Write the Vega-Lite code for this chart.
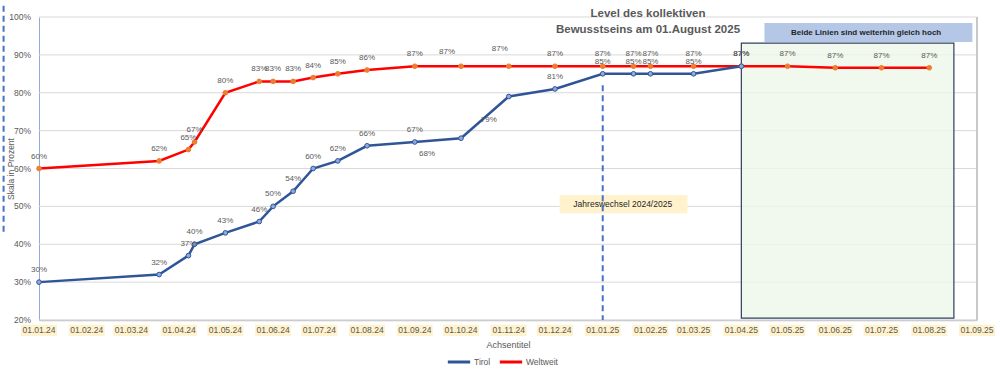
{
  "$schema": "https://vega.github.io/schema/vega-lite/v6.json",
  "autosize": {"type": "none"},
  "width": 938,
  "height": 303,
  "padding": {"left": 39, "top": 17, "right": 23, "bottom": 54},
  "background": "white",
  "config": {
    "font": "Liberation Sans",
    "view": {"stroke": null}
  },
  "title": {
    "text": ["Level des kollektiven", "Bewusstseins am 01.August 2025"],
    "anchor": "middle",
    "dx": 140,
    "offset": -40,
    "fontSize": 11.5,
    "fontWeight": "bold",
    "color": "#595959",
    "lineHeight": 16,
    "baseline": "alphabetic"
  },
  "datasets": {
    "months": [
      {"month": "2024-01-01T00:00"}, {"month": "2024-02-01T00:00"}, {"month": "2024-03-01T00:00"},
      {"month": "2024-04-01T00:00"}, {"month": "2024-05-01T00:00"}, {"month": "2024-06-01T00:00"},
      {"month": "2024-07-01T00:00"}, {"month": "2024-08-01T00:00"}, {"month": "2024-09-01T00:00"},
      {"month": "2024-10-01T00:00"}, {"month": "2024-11-01T00:00"}, {"month": "2024-12-01T00:00"},
      {"month": "2025-01-01T00:00"}, {"month": "2025-02-01T00:00"}, {"month": "2025-03-01T00:00"},
      {"month": "2025-04-01T00:00"}, {"month": "2025-05-01T00:00"}, {"month": "2025-06-01T00:00"},
      {"month": "2025-07-01T00:00"}, {"month": "2025-08-01T00:00"}, {"month": "2025-09-01T00:00"}
    ],
    "yticks": [
      {"tick": 0.2}, {"tick": 0.3}, {"tick": 0.4}, {"tick": 0.5}, {"tick": 0.6},
      {"tick": 0.7}, {"tick": 0.8}, {"tick": 0.9}, {"tick": 1.0}
    ]
  },
  "data": {
    "values": [
      {"date": "2024-01-01T00:00", "series": "Weltweit", "value": 0.60},
      {"date": "2024-03-19T00:00", "series": "Weltweit", "value": 0.62},
      {"date": "2024-04-07T00:00", "series": "Weltweit", "value": 0.65},
      {"date": "2024-04-11T00:00", "series": "Weltweit", "value": 0.67},
      {"date": "2024-05-01T00:00", "series": "Weltweit", "value": 0.80},
      {"date": "2024-05-23T00:00", "series": "Weltweit", "value": 0.83},
      {"date": "2024-06-01T00:00", "series": "Weltweit", "value": 0.83},
      {"date": "2024-06-14T00:00", "series": "Weltweit", "value": 0.83},
      {"date": "2024-06-27T00:00", "series": "Weltweit", "value": 0.84},
      {"date": "2024-07-13T00:00", "series": "Weltweit", "value": 0.85},
      {"date": "2024-08-01T00:00", "series": "Weltweit", "value": 0.86},
      {"date": "2024-09-01T00:00", "series": "Weltweit", "value": 0.87},
      {"date": "2024-10-01T00:00", "series": "Weltweit", "value": 0.87},
      {"date": "2024-11-01T00:00", "series": "Weltweit", "value": 0.87},
      {"date": "2024-12-01T00:00", "series": "Weltweit", "value": 0.87},
      {"date": "2025-01-01T00:00", "series": "Weltweit", "value": 0.87},
      {"date": "2025-01-21T00:00", "series": "Weltweit", "value": 0.87},
      {"date": "2025-02-01T00:00", "series": "Weltweit", "value": 0.87},
      {"date": "2025-03-01T00:00", "series": "Weltweit", "value": 0.87},
      {"date": "2025-04-01T00:00", "series": "Weltweit", "value": 0.87},
      {"date": "2025-05-01T00:00", "series": "Weltweit", "value": 0.87},
      {"date": "2025-06-01T00:00", "series": "Weltweit", "value": 0.866},
      {"date": "2025-07-01T00:00", "series": "Weltweit", "value": 0.866},
      {"date": "2025-08-01T00:00", "series": "Weltweit", "value": 0.866},
      {"date": "2024-01-01T00:00", "series": "Tirol", "value": 0.30},
      {"date": "2024-03-19T00:00", "series": "Tirol", "value": 0.32},
      {"date": "2024-04-07T00:00", "series": "Tirol", "value": 0.37},
      {"date": "2024-04-11T00:00", "series": "Tirol", "value": 0.40},
      {"date": "2024-05-01T00:00", "series": "Tirol", "value": 0.43},
      {"date": "2024-05-23T00:00", "series": "Tirol", "value": 0.46},
      {"date": "2024-06-01T00:00", "series": "Tirol", "value": 0.50},
      {"date": "2024-06-14T00:00", "series": "Tirol", "value": 0.54},
      {"date": "2024-06-27T00:00", "series": "Tirol", "value": 0.60},
      {"date": "2024-07-13T00:00", "series": "Tirol", "value": 0.62},
      {"date": "2024-08-01T00:00", "series": "Tirol", "value": 0.66},
      {"date": "2024-09-01T00:00", "series": "Tirol", "value": 0.67},
      {"date": "2024-10-01T00:00", "series": "Tirol", "value": 0.68},
      {"date": "2024-11-01T00:00", "series": "Tirol", "value": 0.79},
      {"date": "2024-12-01T00:00", "series": "Tirol", "value": 0.81},
      {"date": "2025-01-01T00:00", "series": "Tirol", "value": 0.85},
      {"date": "2025-01-21T00:00", "series": "Tirol", "value": 0.85},
      {"date": "2025-02-01T00:00", "series": "Tirol", "value": 0.85},
      {"date": "2025-03-01T00:00", "series": "Tirol", "value": 0.85},
      {"date": "2025-04-01T00:00", "series": "Tirol", "value": 0.87}
    ]
  },
  "layer": [
    {
      "data": {"name": "yticks"},
      "mark": {"type": "rule", "color": "#d9d9d9", "strokeWidth": 1},
      "encoding": {
        "x": {
          "datum": {"year": 2024, "month": 1, "date": 1}, "type": "temporal",
          "scale": {"domain": [{"year": 2024, "month": 1, "date": 1}, {"year": 2025, "month": 9, "date": 1}]},
          "axis": {
            "title": "Achsentitel", "labels": false,
            "tickCount": {"interval": "month", "step": 1},
            "titleFontSize": 9, "titleFontWeight": "normal", "titleColor": "#595959",
            "domainColor": "#bfbfbf", "domainWidth": 1.5, "gridColor": "#d9d9d9",
            "ticks": false, "titlePadding": 20
          }
        },
        "x2": {"datum": {"year": 2025, "month": 9, "date": 1}},
        "y": {
          "field": "tick", "type": "quantitative",
          "scale": {"domain": [0.2, 1], "zero": false, "nice": false},
          "axis": {
            "title": "Skala in Prozent", "labels": false, "grid": false, "ticks": false,
            "domainColor": "#8faadc", "titlePadding": 24,
            "titleFontSize": 8.5, "titleFontWeight": "normal", "titleColor": "#595959"
          }
        }
      }
    },
    {
      "data": {"name": "yticks"},
      "mark": {"type": "text", "fontSize": 8.5, "color": "#595959", "align": "right", "baseline": "middle", "dx": -8, "clip": false},
      "encoding": {
        "x": {"datum": {"year": 2024, "month": 1, "date": 1}, "type": "temporal"},
        "y": {"field": "tick", "type": "quantitative"},
        "text": {"field": "tick", "format": ".0%"}
      }
    },
    {
      "data": {"name": "months"},
      "mark": {"type": "point", "shape": "M-1,-0.31H1V0.31H-1Z", "size": 1296, "filled": true, "fill": "#fff2cc", "opacity": 1, "strokeWidth": 0, "clip": false},
      "encoding": {
        "x": {"field": "month", "type": "temporal"},
        "y": {"datum": 0.1725, "type": "quantitative"}
      }
    },
    {
      "data": {"name": "months"},
      "mark": {"type": "text", "fontSize": 8.5, "color": "#595959", "align": "center", "baseline": "middle", "clip": false},
      "encoding": {
        "x": {"field": "month", "type": "temporal"},
        "y": {"datum": 0.1725, "type": "quantitative"},
        "text": {"field": "month", "type": "temporal", "format": "%d.%m.%y"}
      }
    },
    {
      "data": {"values": [{}]},
      "mark": {"type": "rect", "fill": "#eef6e8", "stroke": "#2f4060", "strokeWidth": 1.2, "fillOpacity": 0.8},
      "encoding": {
        "x": {"datum": {"year": 2025, "month": 4, "date": 1}, "type": "temporal"},
        "x2": {"datum": {"year": 2025, "month": 8, "date": 17}},
        "y": {"datum": 0.931, "type": "quantitative"},
        "y2": {"datum": 0.205}
      }
    },
    {
      "data": {"values": [{}]},
      "mark": {"type": "rule", "color": "#c8c8c8", "strokeWidth": 2},
      "encoding": {
        "x": {"datum": {"year": 2025, "month": 9, "date": 1}, "type": "temporal"},
        "y": {"datum": 1.0, "type": "quantitative"},
        "y2": {"datum": 0.2}
      }
    },
    {
      "data": {"values": [{}]},
      "mark": {"type": "rect", "fill": "#fff2cc"},
      "encoding": {
        "x": {"datum": {"year": 2024, "month": 12, "date": 4}, "type": "temporal"},
        "x2": {"datum": {"year": 2025, "month": 2, "date": 25}},
        "y": {"datum": 0.53, "type": "quantitative"},
        "y2": {"datum": 0.482}
      }
    },
    {
      "data": {"values": [{}]},
      "mark": {"type": "text", "fontSize": 8.5, "color": "#262626", "align": "center", "baseline": "middle"},
      "encoding": {
        "x": {"datum": {"year": 2025, "month": 1, "date": 14}, "type": "temporal"},
        "y": {"datum": 0.506, "type": "quantitative"},
        "text": {"value": "Jahreswechsel 2024/2025"}
      }
    },
    {
      "data": {"values": [{}]},
      "mark": {"type": "rule", "color": "#4472c4", "strokeWidth": 2, "strokeDash": [6, 4]},
      "encoding": {
        "x": {"datum": {"year": 2025, "month": 1, "date": 1}, "type": "temporal"},
        "y": {"datum": 0.82, "type": "quantitative"},
        "y2": {"datum": 0.2}
      }
    },
    {
      "data": {"values": [{}]},
      "mark": {"type": "rule", "color": "#4472c4", "strokeWidth": 2, "strokeDash": [6, 4], "clip": false},
      "encoding": {
        "x": {"datum": {"year": 2023, "month": 12, "date": 9}, "type": "temporal"},
        "y": {"datum": 1.03, "type": "quantitative"},
        "y2": {"datum": 0.425}
      }
    },
    {
      "data": {"values": [{}]},
      "mark": {"type": "rect", "fill": "#b4c7e7"},
      "encoding": {
        "x": {"datum": {"year": 2025, "month": 4, "date": 16}, "type": "temporal"},
        "x2": {"datum": {"year": 2025, "month": 8, "date": 29}},
        "y": {"datum": 0.984, "type": "quantitative"},
        "y2": {"datum": 0.934}
      }
    },
    {
      "data": {"values": [{}]},
      "mark": {"type": "text", "fontSize": 8, "fontWeight": "bold", "color": "#1f1f1f", "align": "center", "baseline": "middle"},
      "encoding": {
        "x": {"datum": {"year": 2025, "month": 6, "date": 21}, "type": "temporal"},
        "y": {"datum": 0.959, "type": "quantitative"},
        "text": {"value": "Beide Linien sind weiterhin gleich hoch"}
      }
    },
    {
      "mark": {"type": "line", "strokeWidth": 2.5},
      "encoding": {
        "x": {"field": "date", "type": "temporal"},
        "y": {"field": "value", "type": "quantitative"},
        "color": {
          "field": "series", "type": "nominal",
          "scale": {"domain": ["Tirol", "Weltweit"], "range": ["#2f5597", "#ff0000"]},
          "legend": {
            "orient": "none", "legendX": 407, "legendY": 332, "direction": "horizontal",
            "title": null, "labelFontSize": 8.5, "labelColor": "#595959",
            "symbolStrokeWidth": 3, "symbolSize": 500, "columnPadding": 2, "labelOffset": 2
          }
        }
      }
    },
    {
      "mark": {"type": "point", "filled": true, "size": 22, "strokeWidth": 1, "opacity": 1},
      "encoding": {
        "x": {"field": "date", "type": "temporal"},
        "y": {"field": "value", "type": "quantitative"},
        "fill": {
          "field": "series", "type": "nominal",
          "scale": {"domain": ["Tirol", "Weltweit"], "range": ["#8faadc", "#ed7d31"]},
          "legend": null
        },
        "stroke": {
          "field": "series", "type": "nominal",
          "scale": {"domain": ["Tirol", "Weltweit"], "range": ["#2f5597", "#ed7d31"]},
          "legend": null
        }
      }
    },
    {
      "transform": [{"filter": "datum.series == 'Weltweit' && !(month(datum.date) == 9 && year(datum.date) == 2024) && !(month(datum.date) == 10 && year(datum.date) == 2024)"}],
      "mark": {"type": "text", "fontSize": 8, "color": "#595959", "dy": -12, "baseline": "middle"},
      "encoding": {
        "x": {"field": "date", "type": "temporal"},
        "y": {"field": "value", "type": "quantitative"},
        "text": {"field": "value", "format": ".0%"}
      }
    },
    {
      "transform": [{"filter": "datum.series == 'Weltweit' && month(datum.date) == 9 && year(datum.date) == 2024"}],
      "mark": {"type": "text", "fontSize": 8, "color": "#595959", "dx": -14, "dy": -14, "baseline": "middle"},
      "encoding": {
        "x": {"field": "date", "type": "temporal"},
        "y": {"field": "value", "type": "quantitative"},
        "text": {"field": "value", "format": ".0%"}
      }
    },
    {
      "transform": [{"filter": "datum.series == 'Weltweit' && month(datum.date) == 10 && year(datum.date) == 2024"}],
      "mark": {"type": "text", "fontSize": 8, "color": "#595959", "dx": -9, "dy": -17, "baseline": "middle"},
      "encoding": {
        "x": {"field": "date", "type": "temporal"},
        "y": {"field": "value", "type": "quantitative"},
        "text": {"field": "value", "format": ".0%"}
      }
    },
    {
      "transform": [{"filter": "datum.series == 'Tirol' && datum.value != 0.68 && datum.value != 0.79"}],
      "mark": {"type": "text", "fontSize": 8, "color": "#595959", "dy": -12, "baseline": "middle"},
      "encoding": {
        "x": {"field": "date", "type": "temporal"},
        "y": {"field": "value", "type": "quantitative"},
        "text": {"field": "value", "format": ".0%"}
      }
    },
    {
      "transform": [{"filter": "datum.series == 'Tirol' && datum.value == 0.68"}],
      "mark": {"type": "text", "fontSize": 8, "color": "#595959", "dx": -34, "dy": 16, "baseline": "middle"},
      "encoding": {
        "x": {"field": "date", "type": "temporal"},
        "y": {"field": "value", "type": "quantitative"},
        "text": {"field": "value", "format": ".0%"}
      }
    },
    {
      "transform": [{"filter": "datum.series == 'Tirol' && datum.value == 0.79"}],
      "mark": {"type": "text", "fontSize": 8, "color": "#595959", "dx": -20, "dy": 23, "baseline": "middle"},
      "encoding": {
        "x": {"field": "date", "type": "temporal"},
        "y": {"field": "value", "type": "quantitative"},
        "text": {"field": "value", "format": ".0%"}
      }
    }
  ]
}
